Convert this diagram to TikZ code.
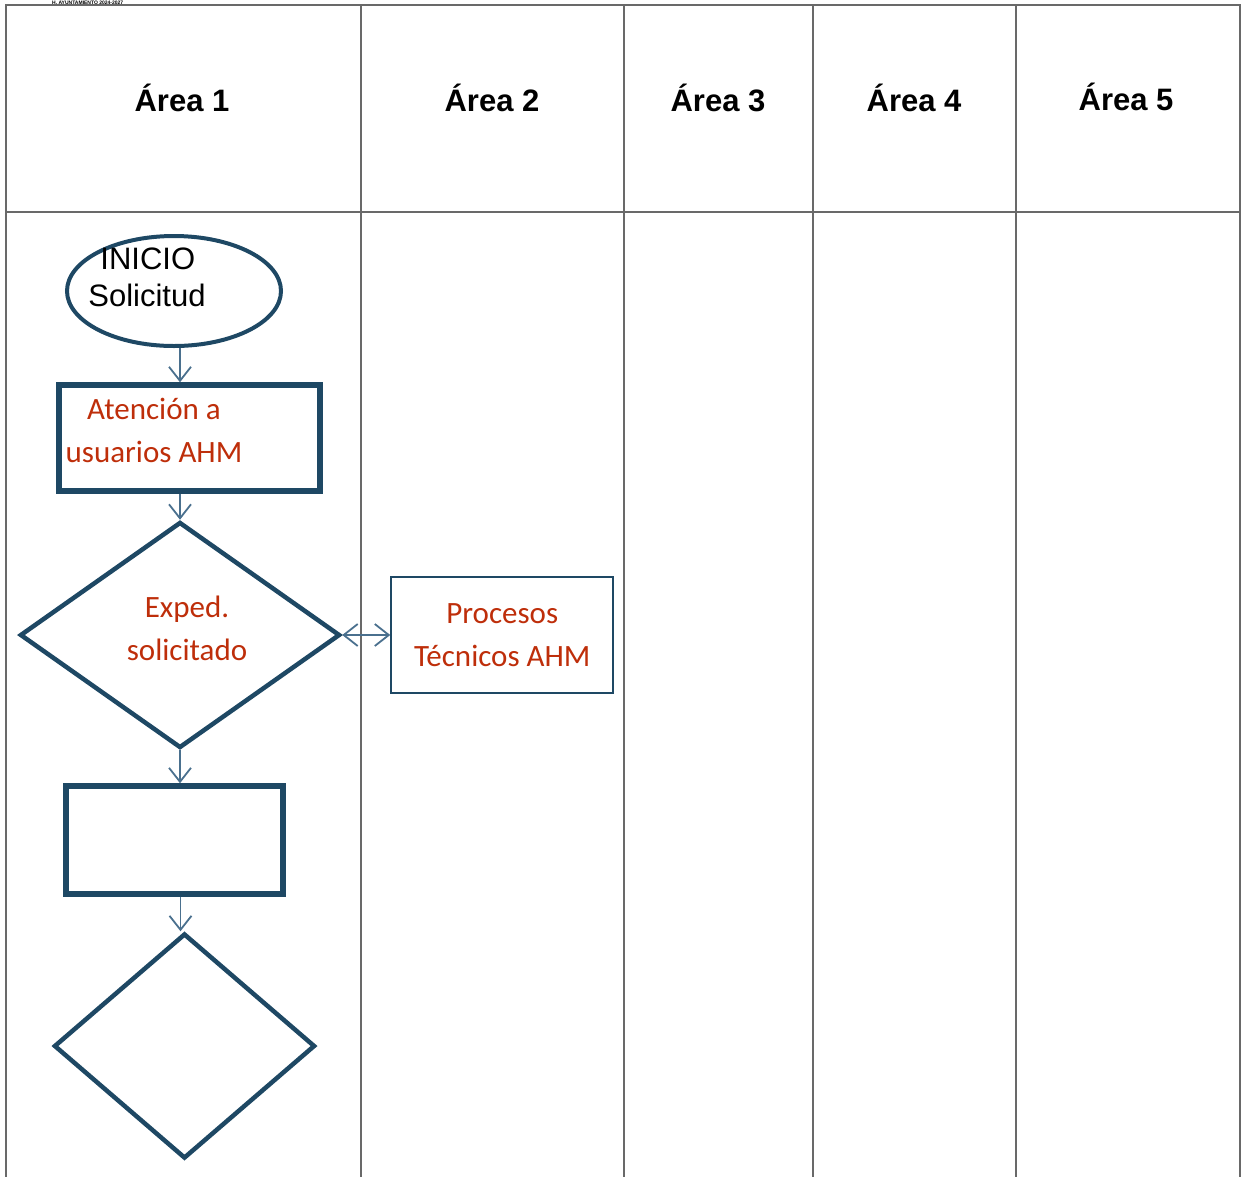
\documentclass[tikz,border=0pt]{standalone}
\usepackage{fontspec}
\setmainfont{Liberation Sans}
\newfontfamily\calibri{Carlito}
\usepackage{tikz}
\usetikzlibrary{positioning,shapes.geometric,arrows.meta}
\definecolor{shapeblue}{RGB}{30,72,100}
\definecolor{arrowblue}{RGB}{74,112,142}
\definecolor{textred}{RGB}{190,46,10}
\definecolor{gridgray}{RGB}{105,105,105}

\begin{document}
\begin{tikzpicture}[x=1pt, y=-1pt, node distance=48pt]
	% Define styles for the lanes and the flow
	\tikzset{
		lane/.style={draw=gridgray, line width=1.2pt},
		areahead/.style={font=\fontsize{31}{36}\selectfont\bfseries},
		startshape/.style={
			ellipse,
			draw=shapeblue,
			line width=4pt,
			minimum width=214pt,
			minimum height=110pt,
			inner sep=0pt
		},
		procbox/.style={
			rectangle,
			draw=shapeblue,
			line width=5.5pt,
			inner sep=0pt
		},
		thinbox/.style={
			rectangle,
			draw=shapeblue,
			line width=2pt,
			minimum width=222pt,
			minimum height=116pt,
			inner sep=0pt
		},
		decision/.style={
			diamond,
			draw=shapeblue,
			line width=4.5pt,
			inner sep=0pt
		},
		redtext/.style={text=textred, font=\calibri\fontsize{31}{43}\selectfont, align=center},
		flow/.style={draw=arrowblue, line width=1.8pt, -{Straight Barb[length=14pt,width=22pt]}}
	}
	\useasboundingbox (0,0) rectangle (1244,1176);
	
	% Table with the five areas
	\node[anchor=base west, inner sep=0pt, font=\fontsize{5}{6}\selectfont\bfseries] (ayto) at (52,4) {H. AYUNTAMIENTO 2024-2027};
	\draw[lane] (6,1180) -- (6,5) -- (1240,5) -- (1240,1180);
	\draw[lane] (6,212) -- (1240,212);
	\draw[lane] (361,5) -- (361,1180);
	\draw[lane] (624,5) -- (624,1180);
	\draw[lane] (813,5) -- (813,1180);
	\draw[lane] (1016,5) -- (1016,1180);
	
	\node[areahead] (area1) at (182,98) {Área 1};
	\node[areahead] (area2) at (492,98) {Área 2};
	\node[areahead] (area3) at (718,98) {Área 3};
	\node[areahead] (area4) at (914,98) {Área 4};
	\node[areahead] (area5) at (1126,97) {Área 5};
	
	% Flow in Area 1
	\node[startshape] (inicio) at (174,291) {};
	\node[procbox, minimum width=261pt, minimum height=106pt] (atencion) at (189.5,438) {};
	\node[decision, minimum width=320pt, minimum height=226pt] (expediente) at (180,635) {};
	\node[thinbox, right=of expediente.east, anchor=west] (tecnicos) {};
	\node[procbox, minimum width=217pt, minimum height=108pt] (blank) at (174.5,840) {};
	\node[decision, minimum width=261pt, minimum height=225pt] (check) at (184.5,1046) {};
	
	% Texts of the shapes
	\node[align=left, font=\fontsize{31}{37}\selectfont] (inicioText) at (147,277) {\hspace{12pt}INICIO\\Solicitud};
	\node[redtext] (atencionText) at (154,430) {Atención a\\usuarios AHM};
	\node[redtext] (expedienteText) at (187,628) {Exped.\\solicitado};
	\node[redtext] (tecnicosText) at (tecnicos.center) {Procesos\\Técnicos AHM};
	
	% Arrows
	\draw[flow] ([xshift=6pt]inicio.south) -- ([xshift=6pt]inicio.south |- atencion.north);
	\draw[flow] (atencion.south -| expediente.north) -- (expediente.north);
	\draw[flow] (expediente.south) -- (expediente.south |- blank.north);
	\draw[flow] ([xshift=6pt]blank.south) -- ([xshift=6pt]blank.south |- check.north);
	\draw[flow, {Straight Barb[length=14pt,width=22pt]}-{Straight Barb[length=14pt,width=22pt]}] (expediente.east) -- (expediente.east -| tecnicos.west);
\end{tikzpicture}
\end{document}
